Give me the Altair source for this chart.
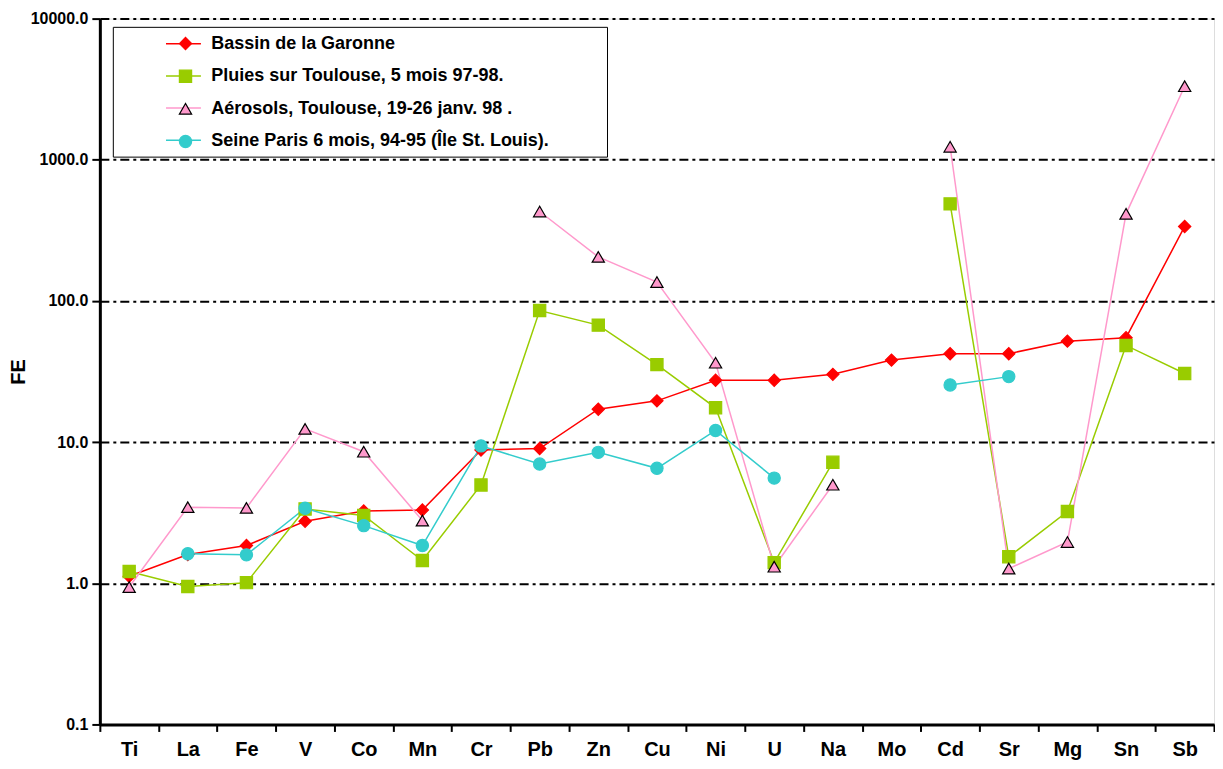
import altair as alt
import pandas as pd

elements = ["Ti", "La", "Fe", "V", "Co", "Mn", "Cr", "Pb", "Zn", "Cu", "Ni", "U",
            "Na", "Mo", "Cd", "Sr", "Mg", "Sn", "Sb"]

garonne = [1.12, 1.6, 1.85, 2.75, 3.25, 3.3, 8.8, 9.0, 17.1, 19.6, 27.4, 27.4,
           30.2, 38.1, 42.3, 42.3, 51.9, 54.9, 337]
pluies = [1.21, 0.95, 1.01, 3.36, 3.02, 1.45, 4.97, 85.5, 67.4, 35.4, 17.5, 1.40,
          7.19, None, 487, 1.54, 3.22, 48.4, 30.6]
aerosols = [0.94, 3.46, 3.42, 12.4, 8.55, 2.78, None, 430, 205, 136, 36.5, 1.31,
            4.99, None, 1237, 1.27, 1.96, 414, 3320]
seine = [None, 1.62, 1.59, 3.40, 2.56, 1.85, 9.4, 6.99, 8.46, 6.52, 12.1, 5.56,
         None, None, 25.4, 29.1, None, None, None]

series_names = [
    "Bassin de la Garonne",
    "Pluies sur Toulouse, 5 mois 97-98.",
    "Aérosols, Toulouse, 19-26 janv. 98 .",
    "Seine Paris 6 mois, 94-95 (Île St. Louis).",
]
series_values = [garonne, pluies, aerosols, seine]
line_colors = ["#FF0000", "#99CC00", "#FF99CC", "#33CCCC"]
marker_strokes = ["#FF0000", "#99CC00", "#000000", "#33CCCC"]
shapes = ["diamond", "square", "triangle-up", "circle"]
y_ticks = [0.1, 1, 10, 100, 1000, 10000]

# keys of the line legend (it draws the legend box and the line samples; no labels)
line_keys = [n + " (ligne)" for n in series_names]

rows = []
for name, key, vals in zip(series_names, line_keys, series_values):
    seg = 0
    for el, v in zip(elements, vals):
        if v is None:
            seg += 1
            continue
        rows.append({"element": el, "series": name, "series2": key,
                     "value": v, "seg": f"{name}-{seg}"})
df = pd.DataFrame(rows)

FONT = "Liberation Sans"
LEG_FS = 18

x_enc = alt.X(
    "element:N", sort=elements, bandPosition=0.5,
    scale=alt.Scale(type="band", paddingInner=0, paddingOuter=0),
    axis=alt.Axis(title=None, labelAngle=0, labelFont=FONT, labelFontSize=20,
                  labelFontWeight="bold", labelColor="black", labelPadding=8,
                  tickBand="extent", tickColor="black", tickWidth=2, tickSize=7,
                  domainColor="black", domainWidth=3, grid=False),
)
y_enc = alt.Y(
    "value:Q",
    scale=alt.Scale(type="log", domain=[0.1, 10000], nice=False),
    axis=alt.Axis(title="FE", titleFont=FONT, titleFontSize=20, titleFontWeight="bold",
                  titleColor="black", titlePadding=2,
                  values=y_ticks, format=".1f", labelFont=FONT, labelFontSize=16,
                  labelFontWeight="bold", labelColor="black", labelPadding=4,
                  tickColor="black", tickWidth=2, tickSize=8,
                  domainColor="black", domainWidth=3,
                  grid=True, gridColor="black", gridWidth=2, gridDash=[9, 4, 3, 4]),
)

lines = alt.Chart(df).mark_line(strokeWidth=1.5).encode(
    x=x_enc, y=y_enc,
    color=alt.Color("series2:N", sort=line_keys,
                    scale=alt.Scale(domain=line_keys, range=line_colors),
                    legend=alt.Legend(
                        orient="none", legendX=13, legendY=8.25, title=None,
                        symbolType="M-1.944,0H1.944", symbolSize=LEG_FS * LEG_FS,
                        symbolStrokeWidth=1.5, symbolOffset=53.75,
                        padding=7, rowPadding=13.2,
                        labelFont=FONT, labelFontSize=LEG_FS, labelExpr="''",
                        labelOffset=406.75, labelLimit=1000,
                        strokeColor="black")),
    detail="seg:N",
)

point_legend = alt.Legend(
    orient="none", legendX=76.8, legendY=16, title=None,
    symbolSize=150, symbolStrokeWidth=1.2, padding=0, rowPadding=14.7,
    labelFont=FONT, labelFontSize=LEG_FS, labelFontWeight="bold",
    labelColor="black", labelOffset=16.8, labelLimit=1000)

points = alt.Chart(df).mark_point(filled=True, strokeWidth=1.2, opacity=1, size=150).encode(
    x=x_enc, y=y_enc,
    fill=alt.Fill("series:N", sort=series_names,
                  scale=alt.Scale(domain=series_names, range=line_colors),
                  legend=point_legend),
    stroke=alt.Stroke("series:N", sort=series_names,
                      scale=alt.Scale(domain=series_names, range=marker_strokes),
                      legend=point_legend),
    shape=alt.Shape("series:N", sort=series_names,
                    scale=alt.Scale(domain=series_names, range=shapes),
                    legend=point_legend),
)

chart = alt.layer(lines, points).properties(
    width=1116, height=707,
    padding={"left": 0, "top": 2, "right": 0, "bottom": 0},
).configure_view(stroke=None).configure(background="white")

chart.save("out.html", embed_options={"renderer": "svg", "actions": False})
